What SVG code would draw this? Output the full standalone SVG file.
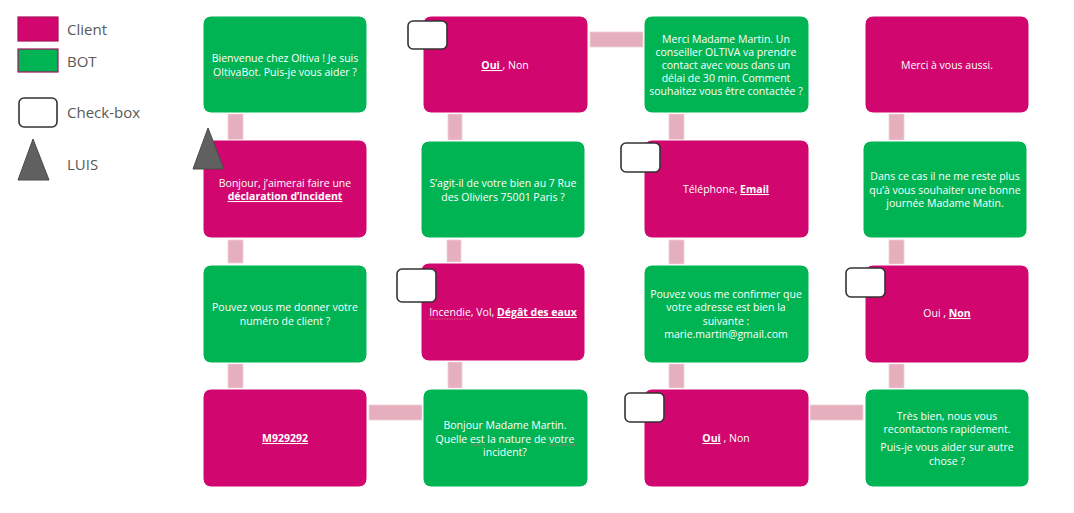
<svg xmlns="http://www.w3.org/2000/svg" width="1074" height="513" viewBox="0 0 1074 513">
<style>
.client{fill:#D1076F;stroke:#ffffff;stroke-width:1}
.bot{fill:#00B454;stroke:#ffffff;stroke-width:1}
.conn{fill:#E5AFBD;stroke:#EFD0D9;stroke-width:0.8}
.cb{fill:#ffffff;stroke:#333333;stroke-width:1.6}
.luis{fill:#606060;stroke:#4a4a4a;stroke-width:1}
.t{font-family:"Open Sans","Noto Sans","DejaVu Sans",sans-serif;font-size:10.5px;fill:#ffffff;text-anchor:middle}
.b{font-weight:bold;text-decoration:underline}
.leg{font-family:"Open Sans","Noto Sans","DejaVu Sans",sans-serif;font-size:15px;fill:#595959}
.sq{fill:none;stroke:#D9677F;stroke-width:0.9;stroke-dasharray:1.5 1}
</style>

<g id="legend">
  <rect x="18" y="17" width="40" height="24" fill="#D1076F" stroke="#A8125C" stroke-width="1.2"/>
  <text class="leg" x="67" y="35">Client</text>
  <rect x="18" y="49" width="40" height="23" fill="#00B454" stroke="#A8125C" stroke-width="1.2"/>
  <text class="leg" x="67" y="67">BOT</text>
  <rect class="cb" x="19" y="98" width="38" height="29" rx="5"/>
  <text class="leg" x="67" y="118">Check-box</text>
  <polygon class="luis" points="33,139 18,180 49,180"/>
  <text class="leg" x="67" y="170">LUIS</text>
</g>

<g id="connectors">
  <rect class="conn" x="228" y="114" width="15" height="26"/>
  <rect class="conn" x="228" y="240" width="15" height="23"/>
  <rect class="conn" x="228" y="364" width="15" height="24"/>
  <rect class="conn" x="369" y="405" width="53" height="15"/>
  <rect class="conn" x="448" y="114" width="14" height="26"/>
  <rect class="conn" x="447" y="240" width="14" height="22"/>
  <rect class="conn" x="448" y="362" width="14" height="26"/>
  <rect class="conn" x="590" y="32" width="53" height="15"/>
  <rect class="conn" x="669" y="114" width="15" height="26"/>
  <rect class="conn" x="669" y="240" width="15" height="24"/>
  <rect class="conn" x="669" y="364" width="15" height="24"/>
  <rect class="conn" x="810" y="405" width="53" height="15"/>
  <rect class="conn" x="889" y="114" width="15" height="26"/>
  <rect class="conn" x="889" y="240" width="15" height="24"/>
  <rect class="conn" x="889" y="364" width="15" height="24"/>
</g>

<g id="n1">
  <rect class="bot" x="203" y="16" width="164" height="97" rx="8"/>
  <text class="t" x="285" y="62">Bienvenue chez Oltiva ! Je suis</text>
  <text class="t" x="285" y="75.5">OltivaBot. Puis-je vous aider ?</text>
  <path class="sq" d="M213 78 H256"/>
</g>
<g id="n2">
  <rect class="client" x="203" y="140" width="164" height="98" rx="8"/>
  <text class="t" x="285" y="187">Bonjour, j’aimerai faire une</text>
  <text class="t b" x="285" y="200">déclaration d’incident</text>
</g>
<g id="n3">
  <rect class="bot" x="203" y="265" width="164" height="98" rx="8"/>
  <text class="t" x="285" y="311">Pouvez vous me donner votre</text>
  <text class="t" x="285" y="324.5">numéro de client ?</text>
</g>
<g id="n4">
  <rect class="client" x="203" y="389" width="164" height="98" rx="8"/>
  <text class="t b" x="285" y="442">M929292</text>
</g>

<g id="n5">
  <rect class="client" x="423" y="16" width="165" height="97" rx="8"/>
  <text class="t" x="505" y="69"><tspan class="b">Oui </tspan>, Non</text>
</g>
<g id="n6">
  <rect class="bot" x="421" y="141" width="164" height="97" rx="8"/>
  <text class="t" x="503" y="187">S’agit-il de votre bien au 7 Rue</text>
  <text class="t" x="503" y="200.5">des Oliviers 75001 Paris ?</text>
</g>
<g id="n7">
  <rect class="client" x="421" y="263" width="164" height="98" rx="8"/>
  <text class="t" x="503" y="316">Incendie, Vol, <tspan class="b">Dégât des eaux</tspan></text>
  <path class="sq" d="M429 319 H471"/>
</g>
<g id="n8">
  <rect class="bot" x="423" y="389" width="165" height="98" rx="8"/>
  <text class="t" x="505" y="429">Bonjour Madame Martin.</text>
  <text class="t" x="505" y="442.5">Quelle est la nature de votre</text>
  <text class="t" x="505" y="456">incident?</text>
  <path class="sq" d="M471 445 H486 M549 445 H575"/>
</g>

<g id="n9">
  <rect class="bot" x="644" y="16" width="165" height="97" rx="8"/>
  <text class="t" x="726" y="43">Merci Madame Martin. Un</text>
  <text class="t" x="726" y="56">conseiller OLTIVA va prendre</text>
  <text class="t" x="726" y="69">contact avec vous dans un</text>
  <text class="t" x="726" y="82">délai de 30 min. Comment</text>
  <text class="t" x="726" y="95">souhaitez vous être contactée ?</text>
</g>
<g id="n10">
  <rect class="client" x="644" y="140" width="165" height="98" rx="8"/>
  <text class="t" x="726" y="193">Téléphone, <tspan class="b">Email</tspan></text>
</g>
<g id="n11">
  <rect class="bot" x="644" y="265" width="165" height="98" rx="8"/>
  <text class="t" x="726" y="298">Pouvez vous me confirmer que</text>
  <text class="t" x="726" y="311">votre adresse est bien la</text>
  <text class="t" x="726" y="324.5">suivante :</text>
  <text class="t" x="726" y="337.5">marie.martin@gmail.com</text>
</g>
<g id="n12">
  <rect class="client" x="644" y="389" width="165" height="98" rx="8"/>
  <text class="t" x="726" y="442"><tspan class="b">Oui</tspan> , Non</text>
</g>

<g id="n13">
  <rect class="client" x="865" y="16" width="164" height="97" rx="8"/>
  <text class="t" x="947" y="69">Merci à vous aussi.</text>
</g>
<g id="n14">
  <rect class="bot" x="863" y="141" width="164" height="97" rx="8"/>
  <text class="t" x="945" y="180">Dans ce cas il ne me reste plus</text>
  <text class="t" x="945" y="193.5">qu’à vous souhaiter une bonne</text>
  <text class="t" x="945" y="207">journée Madame Matin.</text>
</g>
<g id="n15">
  <rect class="client" x="865" y="265" width="164" height="98" rx="8"/>
  <text class="t" x="947" y="317">Oui , <tspan class="b">Non</tspan></text>
</g>
<g id="n16">
  <rect class="bot" x="865" y="389" width="164" height="98" rx="8"/>
  <text class="t" x="947" y="420">Très bien, nous vous</text>
  <text class="t" x="947" y="433">recontactons rapidement.</text>
  <text class="t" x="947" y="451">Puis-je vous aider sur autre</text>
  <text class="t" x="947" y="464.5">chose ?</text>
</g>

<g id="checkboxes">
  <rect class="cb" x="408" y="21" width="39" height="28" rx="5"/>
  <rect class="cb" x="621" y="143" width="39" height="29" rx="5"/>
  <rect class="cb" x="397" y="269" width="39" height="33" rx="5"/>
  <rect class="cb" x="625" y="393" width="39" height="29" rx="5"/>
  <rect class="cb" x="846" y="268" width="39" height="29" rx="5"/>
</g>

<g id="luis">
  <polygon class="luis" points="208,128 193,169 224,169"/>
</g>
</svg>
